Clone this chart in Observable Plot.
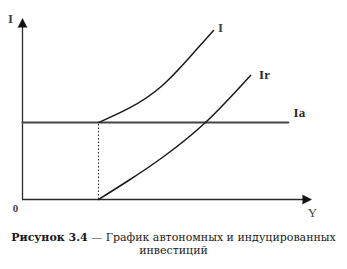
<!DOCTYPE html>
<html>
<head>
<meta charset="utf-8">
<script src="https://cdn.jsdelivr.net/npm/d3@7"></script>
<script src="https://cdn.jsdelivr.net/npm/@observablehq/plot@0.6"></script>
<style>
  body { margin: 0; background: #fff; }
  #chart { width: 347px; }
  .caption {
    font-family: "DejaVu Serif", serif;
    font-size: 11px;
    line-height: 13px;
    color: #1a1a1a;
    text-align: center;
    margin-top: 5px;
    white-space: nowrap;
  }
  .caption b { font-weight: bold; }
</style>
</head>
<body>
<div id="chart"></div>
<div class="caption"><b>Рисунок 3.4</b> — График автономных и индуцированных<br>инвестиций</div>
<script>
// Income level at which investment starts to respond to income
const incomeStart = 26.3;
// Autonomous investment (constant level) and where its line ends
const autonomousLevel = 42.5;
const autonomousEnd = 92;

// Total investment I (autonomous + induced)
const totalIncome = [26.3, 36.7, 48.4, 59.9, 66.1];
const totalInvest = [42.5, 50.3, 63.0, 82.3, 93.4];

// Induced investment Ir
const inducedIncome = [26.3, 36.7, 48.4, 63.3, 78.9];
const inducedInvest = [0, 10.5, 23.2, 42.5, 68.5];

const seriesLabels = ["I", "Ir", "Ia"];
const axisLabels = ["I", "Y", "0"];

const total = totalIncome.map((x, i) => ({x, y: totalInvest[i]}));
const induced = inducedIncome.map((x, i) => ({x, y: inducedInvest[i]}));
const autonomous = [{x: 0, y: autonomousLevel}, {x: autonomousEnd, y: autonomousLevel}];

// axis ends, with the direction each arrowhead points (degrees clockwise from up)
const axisEnds = [{x: 100, y: 0, angle: 90}, {x: 0, y: 100, angle: 0}];

const ink = "#2b2b2b";
const serif = "Liberation Serif, Times New Roman, serif";

const chart = Plot.plot({
  width: 347,
  height: 226,
  marginLeft: 22,
  marginRight: 36,
  marginTop: 18,
  marginBottom: 27,
  x: {domain: [0, 100], axis: null},
  y: {domain: [0, 100], axis: null},
  marks: [
    // axes
    Plot.ruleY([0], {x1: 0, x2: 98, stroke: ink, strokeWidth: 1.3}),
    Plot.ruleX([0], {y1: 0, y2: 97, stroke: ink, strokeWidth: 1.3}),

    // dotted guide from the start of induced investment
    Plot.ruleX([incomeStart], {y1: 0, y2: autonomousLevel, stroke: ink, strokeWidth: 1, strokeDasharray: "1.5,2"}),

    // autonomous investment
    Plot.line(autonomous, {x: "x", y: "y", stroke: "#444", strokeWidth: 2}),
    // total and induced investment curves
    Plot.line(total, {x: "x", y: "y", stroke: "#1a1a1a", strokeWidth: 1.5, curve: "natural"}),
    Plot.line(induced, {x: "x", y: "y", stroke: "#1a1a1a", strokeWidth: 1.5, curve: "natural"}),

    // filled arrowheads at the axis ends (tip sits on the axis end)
    Plot.vector(axisEnds, {x: "x", y: "y", rotate: "angle", length: 9, r: 4.5, shape: "spike", anchor: "end", fill: "#111", stroke: "#111", strokeWidth: 0.5}),

    // series labels
    Plot.text([total[total.length - 1]], {x: "x", y: "y", text: () => seriesLabels[0], dx: 7, dy: -3, fontSize: 13, fontWeight: "bold", fontFamily: serif, fill: "#444"}),
    Plot.text([induced[induced.length - 1]], {x: "x", y: "y", text: () => seriesLabels[1], dx: 14, dy: -1, fontSize: 13, fontWeight: "bold", fontFamily: serif, fill: ink}),
    Plot.text([autonomous[1]], {x: "x", y: "y", text: () => seriesLabels[2], dx: 11, dy: -10, fontSize: 13, fontWeight: "bold", fontFamily: serif, fill: ink}),

    // axis labels
    Plot.text([{x: 0, y: 100}], {x: "x", y: "y", text: () => axisLabels[0], dx: -12, dy: 0, fontSize: 13, fontWeight: "bold", fontFamily: serif, fill: "#444"}),
    Plot.text([{x: 100, y: 0}], {x: "x", y: "y", text: () => axisLabels[1], dx: 1, dy: 13, fontSize: 13, fontFamily: serif, fill: "#444"}),
    Plot.text([{x: 0, y: 0}], {x: "x", y: "y", text: () => axisLabels[2], dx: -7, dy: 9, fontSize: 11, fontWeight: "bold", fontFamily: serif, fill: "#444"})
  ]
});

document.getElementById("chart").append(chart);
</script>
</body>
</html>
